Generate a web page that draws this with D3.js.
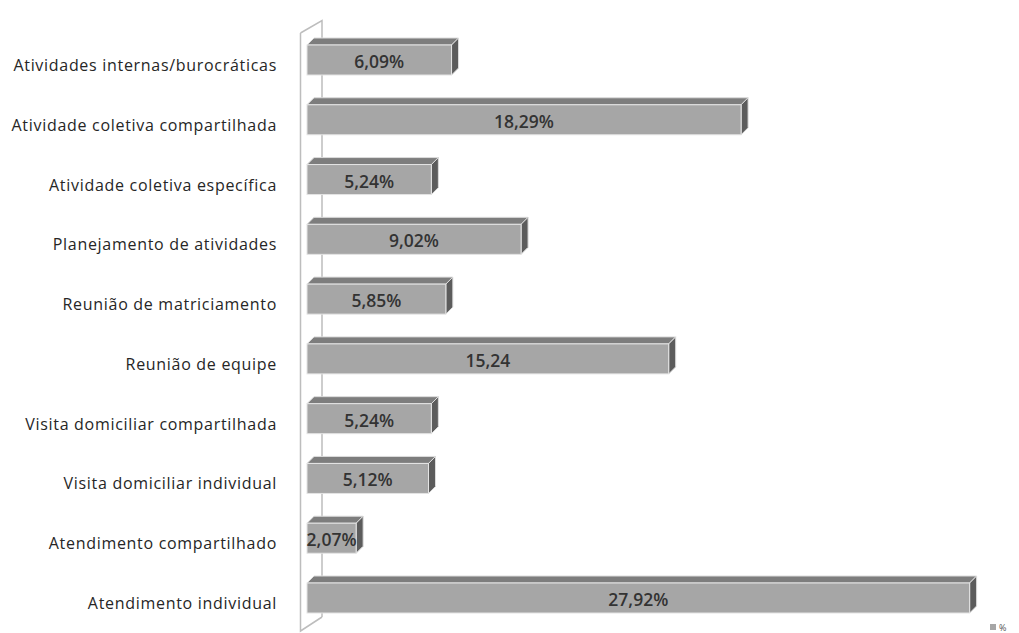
<!DOCTYPE html>
<html>
<head>
<meta charset="utf-8">
<script src="https://cdn.jsdelivr.net/npm/d3@7"></script>
<style>
  html, body { margin: 0; padding: 0; background: #ffffff; }
  svg { display: block; }
</style>
</head>
<body>
<svg id="chart" width="1019" height="633"></svg>
<script>
const categories = [
  "Atividades internas/burocráticas",
  "Atividade coletiva compartilhada",
  "Atividade coletiva específica",
  "Planejamento de atividades",
  "Reunião de matriciamento",
  "Reunião de equipe",
  "Visita domiciliar compartilhada",
  "Visita domiciliar individual",
  "Atendimento compartilhado",
  "Atendimento individual"
];
const values = [6.09, 18.29, 5.24, 9.02, 5.85, 15.24, 5.24, 5.12, 2.07, 27.92];
const valueLabels = ["6,09%", "18,29%", "5,24%", "9,02%", "5,85%", "15,24", "5,24%", "5,12%", "2,07%", "27,92%"];
const legendLabel = "%";

const svg = d3.select("#chart");

const x = d3.scaleLinear().domain([0, 30]).range([307, 1019]);
const y = d3.scalePoint().domain(categories).range([45, 583]);
const barH = 30;
const dx = 7, dy = 7;

// back wall (3D)
svg.append("path")
  .attr("d", "M300.5,33 L322,20.5 L322,617 M300.5,33 L300.5,631 L322,617")
  .attr("fill", "none").attr("stroke", "#bdbdbd").attr("stroke-width", 1.5);

const bars = svg.append("g");
categories.forEach((c, i) => {
  const x0 = x(0), x1 = x(values[i]);
  const yt = y(c), yb = yt + barH;
  const g = bars.append("g");
  g.append("path")
    .attr("d", `M${x0},${yt} L${x0 + dx},${yt - dy} L${x1 + dx},${yt - dy} L${x1},${yt} Z`)
    .attr("fill", "#7d7d7d").attr("stroke", "#dcdcdc").attr("stroke-width", 1);
  g.append("path")
    .attr("d", `M${x1},${yt} L${x1 + dx},${yt - dy} L${x1 + dx},${yb - dy} L${x1},${yb} Z`)
    .attr("fill", "#5c5c5c").attr("stroke", "#dcdcdc").attr("stroke-width", 1);
  g.append("rect")
    .attr("x", x0).attr("y", yt).attr("width", x1 - x0).attr("height", barH)
    .attr("fill", "#a6a6a6").attr("stroke", "#e4e4e4").attr("stroke-width", 1);
  g.append("text")
    .attr("x", (x0 + x1) / 2).attr("y", yt + barH / 2 + 1)
    .attr("text-anchor", "middle").attr("dominant-baseline", "central")
    .attr("font-family", "'Open Sans', sans-serif").attr("font-size", 17.5).attr("font-weight", 600)
    .attr("fill", "#333333")
    .text(valueLabels[i]);
});

// category labels
svg.append("g").selectAll("text").data(categories).join("text")
  .attr("x", 277).attr("y", d => y(d) + barH / 2 + 5)
  .attr("text-anchor", "end").attr("dominant-baseline", "central")
  .attr("font-family", "'Open Sans', sans-serif").attr("font-size", 16)
  .attr("letter-spacing", 0.7)
  .attr("fill", "#262626")
  .text(d => d);

// legend
const lg = svg.append("g");
lg.append("rect").attr("x", 990).attr("y", 624).attr("width", 6).attr("height", 6).attr("fill", "#a6a6a6");
lg.append("text").attr("x", 999).attr("y", 627).attr("dominant-baseline", "central")
  .attr("font-family", "'Open Sans', sans-serif").attr("font-size", 9).attr("fill", "#555")
  .text(legendLabel);
</script>
</body>
</html>
